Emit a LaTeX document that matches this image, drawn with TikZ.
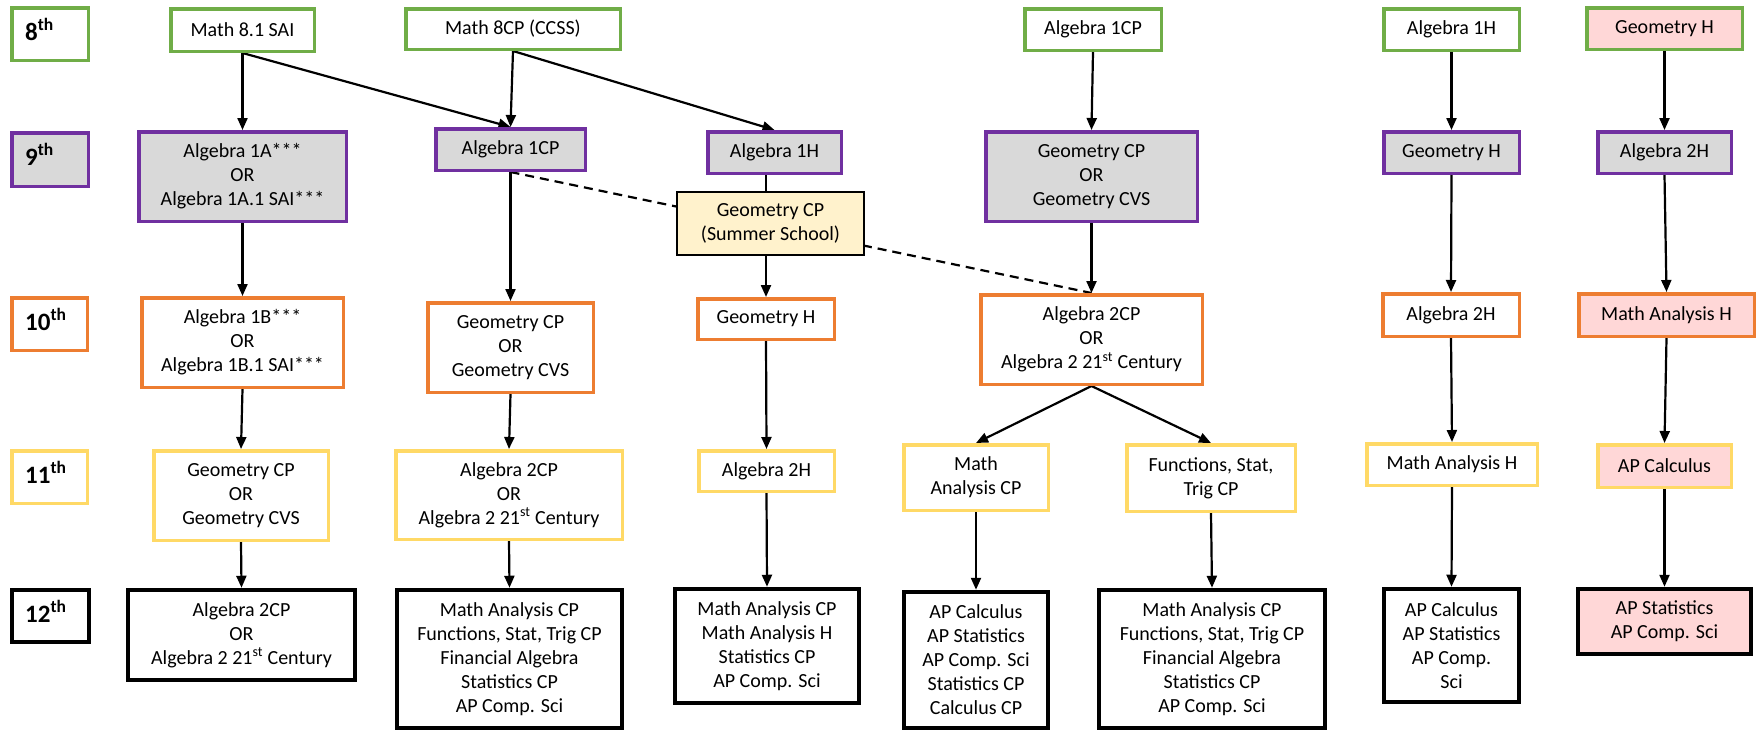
\documentclass[tikz,border=0pt]{standalone}
\usepackage{fontspec}
\setmainfont{Carlito}
\usetikzlibrary{arrows.meta}
\pgfdeclarelayer{bg}
\pgfsetlayers{bg,main}
\definecolor{cgreen}{HTML}{70AD47}
\definecolor{cpurple}{HTML}{7030A0}
\definecolor{corange}{HTML}{ED7D31}
\definecolor{cyellow}{HTML}{FFD966}
\definecolor{cgrey}{HTML}{D9D9D9}
\definecolor{cpink}{HTML}{FFD7D7}
\definecolor{csummer}{HTML}{FFF2CC}
\newcommand\mybox[7]{%
  \node[#1, minimum width={(#5-#3-3.5)*1pt}, minimum height={(#6-#4-3.5)*1pt}] (#2) at ({(#3+#5)/2},{(#4+#6)/2}) {#7};}
\tikzset{
  base/.style={draw, rectangle, inner sep=0pt, align=center, line width=3.5pt, fill=white,
    font=\fontsize{20}{24}\selectfont},
  g8/.style={base, draw=cgreen},
  g9/.style={base, draw=cpurple, fill=cgrey},
  g10/.style={base, draw=corange},
  g11/.style={base, draw=cyellow},
  g12/.style={base, draw=black, line width=4pt},
  pinkfill/.style={fill=cpink},
  summer/.style={base, draw=black, line width=2.2pt, fill=csummer},
  lbl/.style={anchor=base west, inner sep=0pt, font=\bfseries\fontsize{25}{29}\selectfont},
  arr/.style={line width=2.2pt, -{Triangle[length=12pt,width=10pt]}},
  plain/.style={line width=2.2pt},
  dsh/.style={line width=2.2pt, dash pattern=on 9pt off 6pt},
}
\begin{document}
\begin{tikzpicture}[x=1pt,y=-1pt]
\useasboundingbox (0,0) rectangle (1762,731);
% grade labels
\mybox{g8}{L8}{10}{6}{90}{62}{}
\mybox{g9}{L9}{10}{131}{90}{188}{}
\mybox{g10}{L10}{10}{296}{89}{352}{}
\mybox{g11}{L11}{10}{449}{89}{505}{}
\mybox{g12}{L12}{10}{588}{91}{644}{}
\node[lbl] (t8) at (25,40) {8\textsuperscript{th}};
\node[lbl] (t9) at (25,165) {9\textsuperscript{th}};
\node[lbl] (t10) at (25,330) {10\textsuperscript{th}};
\node[lbl] (t11) at (25,483) {11\textsuperscript{th}};
\node[lbl] (t12) at (25,622) {12\textsuperscript{th}};
% 8th
\mybox{g8}{a1}{169}{7}{316}{53}{Math 8.1 SAI}
\mybox{g8}{a2}{404}{7}{622}{51}{Math 8CP (CCSS)}
\mybox{g8}{a3}{1023}{7}{1163}{52}{Algebra 1CP}
\mybox{g8}{a4}{1382}{7}{1521}{52}{Algebra 1H}
\mybox{g8,pinkfill}{a5}{1585}{6}{1744}{51}{Geometry H}
% 9th
\mybox{g9}{b1}{137}{130}{348}{223}{Algebra 1A***\\OR\\Algebra 1A.1 SAI***}
\mybox{g9}{b2}{434}{127}{587}{172}{Algebra 1CP}
\mybox{g9}{b3}{706}{130}{843}{175}{Algebra 1H}
\mybox{g9}{b4}{984}{130}{1199}{223}{Geometry CP\\OR\\Geometry CVS}
\mybox{g9}{b5}{1382}{130}{1521}{175}{Geometry H}
\mybox{g9}{b6}{1596}{130}{1733}{175}{Algebra 2H}
\mybox{summer}{ss}{675}{190}{866}{257}{Geometry CP\\(Summer School)}
% 10th
\mybox{g10}{c1}{140}{296}{345}{389}{Algebra 1B***\\OR\\Algebra 1B.1 SAI***}
\mybox{g10}{c2}{426}{301}{595}{394}{Geometry CP\\OR\\Geometry CVS}
\mybox{g10}{c3}{696}{297}{836}{341}{Geometry H}
\mybox{g10}{c4}{979}{293}{1204}{386}{Algebra 2CP\\OR\\Algebra 2 21\textsuperscript{st} Century}
\mybox{g10}{c5}{1381}{292}{1521}{338}{Algebra 2H}
\mybox{g10,pinkfill}{c6}{1577}{292}{1756}{338}{Math Analysis H}
% 11th
\mybox{g11}{d1}{152}{449}{330}{542}{Geometry CP\\OR\\Geometry CVS}
\mybox{g11}{d2}{394}{449}{624}{541}{Algebra 2CP\\OR\\Algebra 2 21\textsuperscript{st} Century}
\mybox{g11}{d3}{697}{449}{836}{493}{Algebra 2H}
\mybox{g11}{d4}{902}{443}{1050}{512}{Math\\Analysis CP}
\mybox{g11}{d5}{1125}{443}{1297}{513}{Functions, Stat,\\Trig CP}
\mybox{g11}{d6}{1365}{442}{1539}{487}{Math Analysis H}
\mybox{g11,pinkfill}{d7}{1596}{443}{1733}{489}{AP Calculus}
% 12th
\mybox{g12}{e1}{126}{588}{357}{682}{Algebra 2CP\\OR\\Algebra 2 21\textsuperscript{st} Century}
\mybox{g12}{e2}{395}{588}{624}{730}{Math Analysis CP\\Functions, Stat, Trig CP\\Financial Algebra\\Statistics CP\\AP Comp. Sci}
\mybox{g12}{e3}{673}{587}{861}{705}{Math Analysis CP\\Math Analysis H\\Statistics CP\\AP Comp. Sci}
\mybox{g12}{e4}{902}{590}{1050}{730}{AP Calculus\\AP Statistics\\AP Comp. Sci\\Statistics CP\\Calculus CP}
\mybox{g12}{e5}{1097}{588}{1327}{730}{Math Analysis CP\\Functions, Stat, Trig CP\\Financial Algebra\\Statistics CP\\AP Comp. Sci}
\mybox{g12}{e6}{1382}{587}{1521}{704}{AP Calculus\\AP Statistics\\AP Comp.\\Sci}
\mybox{g12,pinkfill}{e7}{1576}{587}{1753}{656}{AP Statistics\\AP Comp. Sci}
\begin{pgfonlayer}{bg}
\fill[white] (0,0) rectangle (1762,731);
\draw[arr] (a1.south) -- (b1.north);
\draw[arr] (a1.south) -- (b2.north);
\draw[arr] (a2.south) -- (b2.north);
\draw[arr] (a2.south) -- (b3.north);
\draw[arr] (a3.south) -- (b4.north);
\draw[arr] (a4.south) -- (b5.north);
\draw[arr] (a5.south) -- (b6.north);
\draw[arr] (b1.south) -- (c1.north);
\draw[arr] (b2.south) -- (c2.north);
\draw[plain] (b3.south -| c3.north) -- (ss.north -| c3.north);
\draw[arr] (ss.south -| c3.north) -- (c3.north);
\draw[arr] (b4.south) -- (c4.north);
\draw[arr] (b5.south) -- (c5.north);
\draw[arr] (b6.south) -- (c6.north);
\draw[dsh] (b2.south) -- (c4.north);
\draw[arr] (c1.south) -- (d1.north);
\draw[arr] (c2.south) -- (d2.north);
\draw[arr] (c3.south) -- (d3.north);
\draw[arr] (c4.south) -- (d4.north);
\draw[arr] (c4.south) -- (d5.north);
\draw[arr] (c5.south) -- (d6.north);
\draw[arr] (c6.south) -- (d7.north);
\draw[arr] (d1.south) -- (e1.north);
\draw[arr] (d2.south) -- (e2.north);
\draw[arr] (d3.south) -- (e3.north);
\draw[arr] (d4.south) -- (e4.north);
\draw[arr] (d5.south) -- (e5.north);
\draw[arr] (d6.south) -- (e6.north);
\draw[arr] (d7.south) -- (e7.north);
\end{pgfonlayer}
\end{tikzpicture}
\end{document}
